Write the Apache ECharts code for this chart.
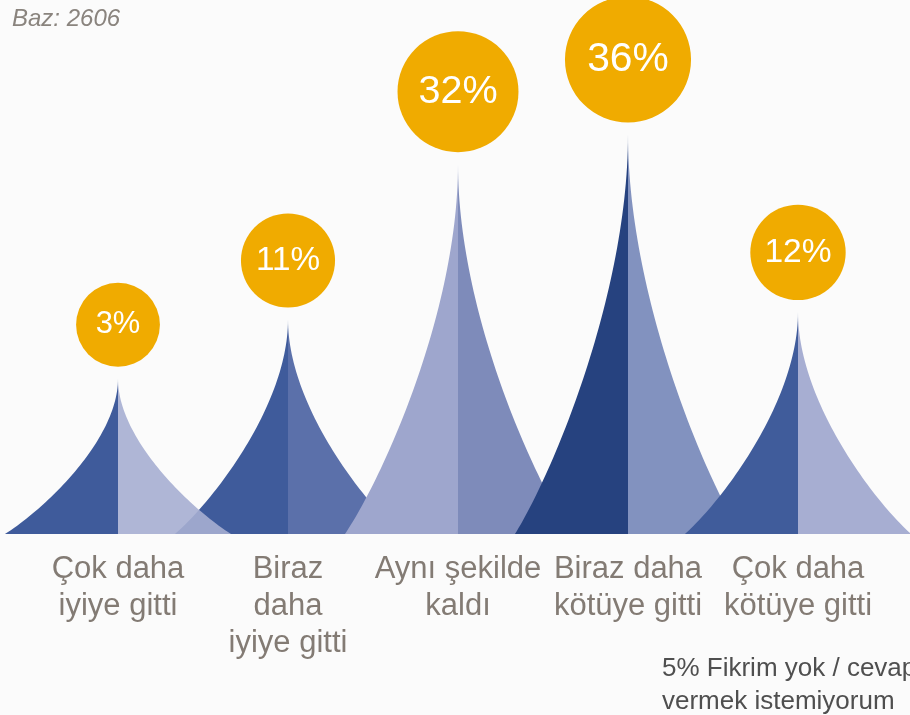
<!DOCTYPE html>
<html>
<head>
<meta charset="utf-8">
<script src="https://cdn.jsdelivr.net/npm/echarts@6/dist/echarts.min.js"></script>
<style>
  html, body { margin: 0; padding: 0; background: #fbfbfb; }
  #chart { width: 910px; height: 715px; }
</style>
</head>
<body>
<div id="chart"></div>
<script>
// ---- data ----
const categories = [
  'Çok daha\niyiye gitti',
  'Biraz\ndaha\niyiye gitti',
  'Aynı şekilde\nkaldı',
  'Biraz daha\nkötüye gitti',
  'Çok daha\nkötüye gitti'
];
const values = [3, 11, 32, 36, 12];
const baseText = 'Baz: 2606';
const footnoteText = '5% Fikrim yok / cevap\nvermek istemiyorum';

// ---- styles ----
const leftColors  = ['#3f5b9b', '#3f5b9b', '#9ea6cd', '#26427f', '#405c9b'];
const rightColors = ['#a6aed2', '#5b70aa', '#7e8bba', '#8292bf', '#a7aed2'];
const circleColor = '#f0ab00';
const FONT = '"Liberation Sans", Arial, sans-serif';
const Y_MIN = -18, Y_MAX = 40;

function bez(p0, p1, p2, p3, t) {
  const u = 1 - t;
  return [
    u*u*u*p0[0] + 3*u*u*t*p1[0] + 3*u*t*t*p2[0] + t*t*t*p3[0],
    u*u*u*p0[1] + 3*u*u*t*p1[1] + 3*u*t*t*p2[1] + t*t*t*p3[1]
  ];
}

function halfSpike(cx, ty, by, hw, dir) {
  const h = by - ty;
  const p0 = [cx + dir * hw, by];
  const p1 = [cx + dir * (hw - 0.33 * hw), by - 0.15 * h];
  const p2 = [cx, by - 0.6 * h];
  const p3 = [cx, ty];
  const pts = [];
  const N = 60;
  for (let k = 0; k <= N; k++) pts.push(bez(p0, p1, p2, p3, k / N));
  pts.push([cx, by]);
  return pts;
}

function renderItem(params, api) {
  const idx = api.value(0);
  const v = api.value(1);
  const top = api.coord([idx, v]);
  const base = api.coord([idx, Y_MIN]);
  const band = api.size([1, 0])[0];
  const hw = band * 0.665;
  const cx = top[0], ty = top[1], by = base[1];
  const z = idx === 0 ? 10 : idx;
  const r = 40 + 0.64 * v;
  const fs = 30 + 0.3 * v;
  const cy = ty - 12 - r;
  return {
    type: 'group',
    children: [
      { type: 'polygon', z2: z, shape: { points: halfSpike(cx, ty, by, hw, -1) },
        style: { fill: leftColors[idx] } },
      { type: 'polygon', z2: z, shape: { points: halfSpike(cx, ty, by, hw, 1) },
        style: { fill: rightColors[idx], opacity: idx === 0 ? 0.9 : 1 } },
      { type: 'circle', z2: 20, shape: { cx: cx, cy: cy, r: r },
        style: { fill: circleColor } },
      { type: 'text', z2: 21,
        style: { text: v + '%', x: cx, y: cy, align: 'center', verticalAlign: 'middle',
                 fill: '#ffffff', fontSize: fs, fontFamily: FONT } }
    ]
  };
}

const chart = echarts.init(document.getElementById('chart'), null, { renderer: 'canvas' });
chart.setOption({
  backgroundColor: '#fbfbfb',
  animation: false,
  grid: { left: 33, right: 27, top: 105, bottom: 181 },
  xAxis: {
    type: 'category',
    data: categories,
    axisLine: { show: false },
    axisTick: { show: false },
    axisLabel: {
      interval: 0,
      margin: 17,
      color: '#837b74',
      fontSize: 31,
      lineHeight: 37,
      fontFamily: FONT
    }
  },
  yAxis: { type: 'value', min: Y_MIN, max: Y_MAX, show: false },
  graphic: [
    { type: 'text', left: 12, top: 7,
      style: { text: baseText, fill: '#8a847e', fontSize: 24, fontStyle: 'italic', fontFamily: FONT } },
    { type: 'text', left: 662, top: 652,
      style: { text: footnoteText, fill: '#4f4f4f', fontSize: 26, lineHeight: 33, fontFamily: FONT } }
  ],
  series: [{
    type: 'custom',
    renderItem: renderItem,
    encode: { x: 0, y: 1 },
    data: values.map((v, i) => [i, v])
  }]
});
</script>
</body>
</html>
